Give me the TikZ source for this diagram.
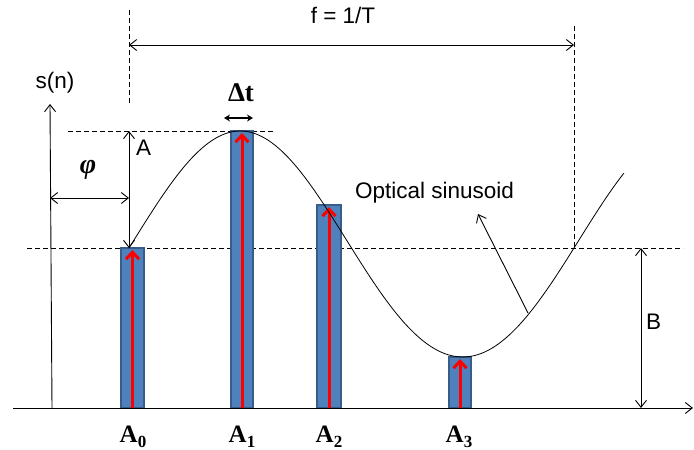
\documentclass[tikz,border=0pt]{standalone}
\usepackage{fontspec}
\setmainfont{Liberation Serif}
\newfontfamily\sansfam{Liberation Sans}
\usetikzlibrary{arrows.meta}
\definecolor{barfill}{HTML}{4F81BD}
\definecolor{barline}{HTML}{385D8A}
\tikzset{
  line/.style={line width=0.9pt, black},
  dimarrow/.style={line, {Straight Barb[length=7pt,width=11pt]}-{Straight Barb[length=7pt,width=11pt]}},
  onearrow/.style={line, -{Straight Barb[length=7pt,width=11pt]}},
  dashline/.style={line width=0.8pt, dash pattern=on 5pt off 3pt},
  bar/.style={fill=barfill, draw=barline, line width=1.5pt},
  redarrow/.style={red, line width=3pt, -{Straight Barb[length=7pt,width=13pt]}},
  lbl/.style={font=\sansfam\fontsize{22.5}{27}\selectfont, inner sep=0pt},
  alabel/.style={font=\bfseries\fontsize{25}{29}\selectfont, inner sep=0pt, anchor=base},
}
\newcommand{\Asub}[1]{A\lower5pt\hbox{\fontsize{17}{19}\selectfont #1}}
\begin{document}
\begin{tikzpicture}[x=1pt,y=-1pt]
\useasboundingbox (0,0) rectangle (694,450);
% coordinates
\coordinate (axL) at (13,408);
\coordinate (axR) at (693,408);
\coordinate (sB) at (52,408);
\coordinate (sT) at (50,104);
% dashed guides
\draw[dashline] (129,10) -- (129,103);
\draw[dashline] (574,26) -- (574,248);
\draw[dashline] (68,131) -- (273,131);
\draw[dashline] (27,248) -- (683,248);
% bars
\draw[bar] (121,408) rectangle (144,248);
\draw[bar] (231,408) rectangle (253,131);
\draw[bar] (317,408) rectangle (341,205);
\draw[bar] (449,408) rectangle (471,357);
\draw[redarrow] (132.5,408) -- (132.5,250);
\draw[redarrow] (242,408) -- (242,133);
\draw[redarrow] (329,408) -- (329,207);
\draw[redarrow] (460,408) -- (460,359);
% axes
\draw[onearrow] (axL) -- (axR);
\draw[onearrow] (sB) -- (sT);
% sinusoid
\draw[line, line width=0.8pt] plot[domain=0:400.4, samples=150, smooth]
  ({129+\x/360*445}, {248-(113+4*sin(\x))*sin(\x)});
% dimension arrows
\coordinate (fL) at (129,45);
\coordinate (fR) at (574,45);
\draw[dimarrow] (fL) -- (fR);
\coordinate (aB) at (129,248);
\coordinate (aT) at (129,131);
\draw[dimarrow] (aB) -- (aT);
\coordinate (pL) at (50,198);
\coordinate (pR) at (129,198);
\draw[dimarrow] (pL) -- (pR);
\coordinate (bT) at (641,248);
\coordinate (bB) at (641,408);
\draw[dimarrow] (bT) -- (bB);
\coordinate (dL) at (224,118);
\coordinate (dR) at (253,118);
\draw[line width=1.8pt, {Stealth[length=6pt,width=7pt]}-{Stealth[length=6pt,width=7pt]}] (dL) -- (dR);
% pointer to sinusoid
\coordinate (pc) at (528,313);
\coordinate (pt) at (478,214);
\draw[onearrow] (pc) -- (pt);
% labels
\node[lbl, anchor=base] (sn) at (55,88) {s(n)};
\node[lbl, anchor=base] (f) at (343,23) {f = 1/T};
\node[lbl, anchor=base west] (A) at (136,155) {A};
\node[lbl, anchor=base west] (B) at (646,329) {B};
\node[lbl, anchor=base west] (opt) at (355,198) {Optical sinusoid};
\node[inner sep=0pt, font=\bfseries\itshape\fontsize{28}{32}\selectfont] (phi) at (88,170) {φ};
\node[inner sep=0pt, anchor=base, font=\bfseries\fontsize{27}{31}\selectfont] (dt) at (241,101) {Δt};
\node[alabel] (a0) at (133,442) {\Asub{0}};
\node[alabel] (a1) at (242,442) {\Asub{1}};
\node[alabel] (a2) at (329,442) {\Asub{2}};
\node[alabel] (a3) at (459,442) {\Asub{3}};
\end{tikzpicture}
\end{document}
